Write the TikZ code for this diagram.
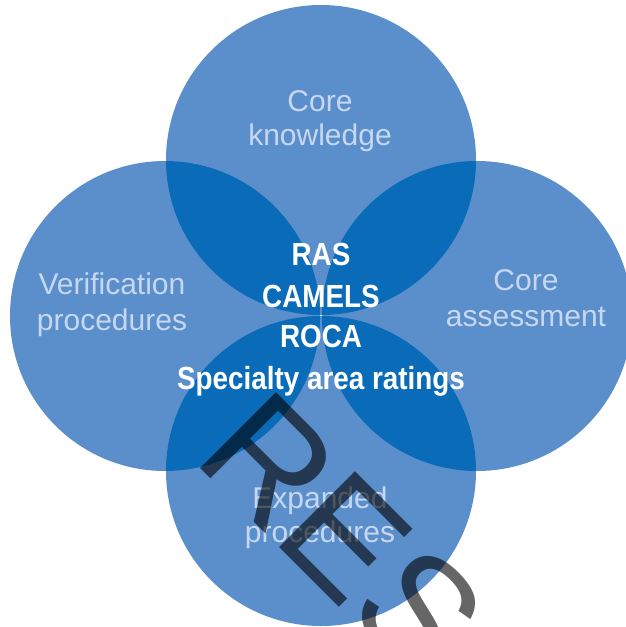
\documentclass[tikz,border=0pt]{standalone}
\usepackage{fontspec}
\setmainfont{Liberation Sans}
\newfontfamily\condbold[FakeStretch=0.87]{Liberation Sans Bold}
\newfontfamily\stampfont{Liberation Sans}
\definecolor{lightblue}{HTML}{5A8FCC}
\definecolor{darkblue}{HTML}{0A6BB8}
\definecolor{labelcol}{HTML}{C6D7EF}
\begin{document}
\begin{tikzpicture}[x=1pt,y=-1pt,
  circ/.style={fill=lightblue},
  lbl/.style={text=labelcol,font=\fontsize{30}{36}\selectfont,anchor=base,inner sep=0pt},
  ctr/.style={text=white,font=\condbold\fontsize{32}{40}\selectfont,anchor=base,inner sep=0pt},
  stamp/.style={text=black,opacity=0.6,font=\stampfont\fontsize{156}{160}\selectfont,anchor=base west,inner sep=0pt,rotate=-45}]
\useasboundingbox (0,0) rectangle (625,627);
\fill[white] (0,0) rectangle (625,627);
% circles
\fill[circ] (321,160) circle (155);
\fill[circ] (165,316) circle (155);
\fill[circ] (477,316) circle (155);
\fill[circ] (321,471) circle (155);
% overlaps
\begin{scope}
  \clip (321,160) circle (155);
  \fill[darkblue] (165,316) circle (155);
  \fill[darkblue] (477,316) circle (155);
\end{scope}
\begin{scope}
  \clip (321,471) circle (155);
  \fill[darkblue] (165,316) circle (155);
  \fill[darkblue] (477,316) circle (155);
\end{scope}
% labels
\node[lbl] (ck1) at (320,111) {Core};
\node[lbl] (ck2) at (320,145) {knowledge};
\node[lbl] (vp1) at (112,294) {Verification};
\node[lbl] (vp2) at (112,330) {procedures};
\node[lbl] (ca1) at (526,290) {Core};
\node[lbl] (ca2) at (526,326) {assessment};
\node[lbl] (ep1) at (320,508) {Expanded};
\node[lbl] (ep2) at (320,542) {procedures};
% center
\node[ctr] (c1) at (321,265) {RAS};
\node[ctr] (c2) at (321,307) {CAMELS};
\node[ctr] (c3) at (321,347) {ROCA};
\node[ctr] (c4) at (321,389) {Specialty area ratings};
% stamp
\node[stamp] (st) at (191,459) {RESCINDED};
\end{tikzpicture}
\end{document}
